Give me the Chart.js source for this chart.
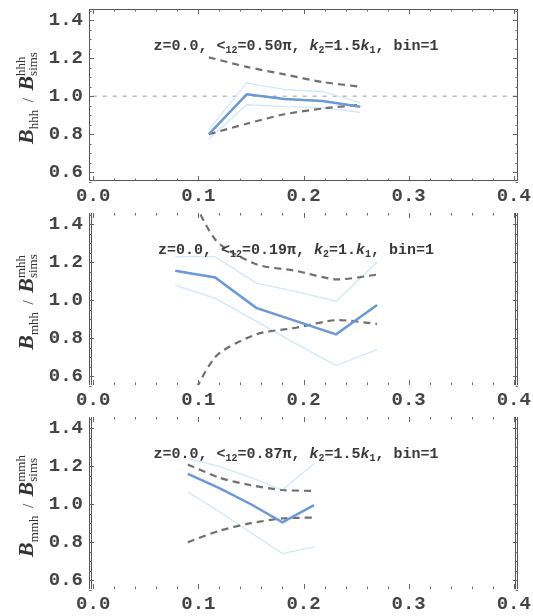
<!DOCTYPE html>
<html>
<head>
<meta charset="utf-8">
<script src="https://cdn.jsdelivr.net/npm/chart.js@4.4.1/dist/chart.umd.min.js"></script>
<style>
body { margin: 0; background: #fff; width: 533px; height: 616px; overflow: hidden; position: relative; }
canvas { position: absolute; left: 0; }
</style>
</head>
<body>
<canvas id="c1" width="533" height="212" style="top:0px"></canvas>
<canvas id="c2" width="533" height="212" style="top:204px"></canvas>
<canvas id="c3" width="533" height="212" style="top:408px"></canvas>
<script>
// axis ticks (shared by all three panels)
const xTicks = [0.0, 0.1, 0.2, 0.3, 0.4];
const yTicks = [0.6, 0.8, 1.0, 1.2, 1.4];

// panel 1: hhh, angle 0.50 pi
const k1 = [0.110, 0.146, 0.182, 0.218, 0.254];
const ratio1 = [0.80, 1.01, 0.985, 0.975, 0.945];
const ratio1Hi = [0.825, 1.07, 1.035, 1.025, 0.965];
const ratio1Lo = [0.775, 0.955, 0.945, 0.94, 0.915];
const dashHi1 = [1.205, 1.155, 1.115, 1.075, 1.05];
const dashLo1 = [0.80, 0.855, 0.905, 0.935, 0.955];
const refX = [-0.01, 0.41];
const refY = [1.0, 1.0];

// panel 2: mhh, angle 0.19 pi
const k2 = [0.078, 0.116, 0.155, 0.193, 0.231, 0.270];
const ratio2 = [1.155, 1.12, 0.96, 0.89, 0.82, 0.975];
const ratio2Hi = [1.23, 1.23, 1.09, 1.045, 0.995, 1.20];
const ratio2Lo = [1.08, 1.01, 0.89, 0.77, 0.655, 0.74];
const dashHi2 = [1.74, 1.32, 1.19, 1.155, 1.11, 1.135];
const dashLo2 = [0.31, 0.70, 0.82, 0.855, 0.895, 0.875];

// panel 3: mmh, angle 0.87 pi
const k3 = [0.09, 0.12, 0.15, 0.18, 0.21];
const ratio3 = [1.16, 1.085, 1.0, 0.905, 0.995];
const ratio3Hi = [1.24, 1.20, 1.14, 1.075, 1.215];
const ratio3Lo = [1.065, 0.96, 0.85, 0.74, 0.775];
const dashHi3 = [1.21, 1.14, 1.10, 1.075, 1.07];
const dashLo3 = [0.80, 0.86, 0.90, 0.925, 0.93];

const tickFont = { family: "'Liberation Mono', monospace", size: 19, weight: 'bold' };
const noteFont = "bold 15px 'Liberation Mono', 'DejaVu Sans Mono', monospace";
const noteKFont = "bold italic 15px 'Liberation Mono', monospace";
const noteSubFont = "bold 10px 'Liberation Mono', monospace";

function line(xs, ys, style) {
    return Object.assign({ data: xs.map((x, i) => ({ x: x, y: ys[i] })), showLine: true, pointRadius: 0, fill: false }, style);
}
const dashStyle = { borderColor: '#707070', borderWidth: 2.2, borderDash: [7, 5], tension: 0.25, order: 2 };
const mainStyle = { borderColor: '#6b98d8', borderWidth: 2.5, order: 1 };
const bandStyle = { borderColor: '#d2e7fb', borderWidth: 1.3, order: 3 };
const refStyle = { borderColor: '#bdbdbd', borderWidth: 1.5, borderDash: [4, 6], order: 4 };

// draw text made of pieces (sub/superscripts), left to right from x
function richWidth(ctx, segs) {
    let w = 0;
    segs.forEach(s => {
        ctx.font = s.font;
        if (s.sup !== undefined) {
            s.w = Math.max(ctx.measureText(s.sup).width, ctx.measureText(s.sub).width);
        } else {
            s.w = ctx.measureText(s.t).width;
        }
        w += s.w;
    });
    return w;
}
function drawRich(ctx, segs, x, y) {
    segs.forEach(s => {
        ctx.font = s.font;
        if (s.sup !== undefined) {
            ctx.fillText(s.sup, x, y - 8);
            ctx.fillText(s.sub, x, y + 4);
        } else {
            ctx.fillText(s.t, x, y + (s.dy || 0));
        }
        x += s.w;
    });
}

function noteSegs(angle, ratio) {
    const N = t => ({ t: t, font: noteFont });
    const S = t => ({ t: t, font: noteSubFont, dy: 3 });
    const K = t => ({ t: t, font: noteKFont });
    return [N('z=0.0, <'), S('12'), N('=' + angle + 'π, '), K('k'), S('2'), N('=' + ratio), K('k'), S('1'), N(', bin=1')];
}
function titleSegs(kind) {
    const bFont = "bold italic 22px 'Liberation Serif', serif";
    const small = "13px 'Liberation Serif', serif";
    return [
        { t: 'B', font: bFont },
        { t: kind, font: small, dy: 5 },
        { t: '  /  ', font: "15px 'Liberation Serif', serif" },
        { t: 'B', font: bFont },
        { sup: kind, sub: 'sims', font: small }
    ];
}

const decoPlugin = {
    id: 'deco',
    afterDatasetsDraw(chart, args, opts) {
        const ctx = chart.ctx;
        const a = chart.chartArea;
        const xs = chart.scales.x, ys = chart.scales.y;
        ctx.save();
        // frame
        ctx.strokeStyle = '#555';
        ctx.lineWidth = 1;
        if (opts.frame === 'box') {
            ctx.strokeRect(a.left + 0.5, a.top + 0.5, a.right - a.left - 1, a.bottom - a.top - 1);
        } else {
            [a.left + 0.5, a.left + 2.5, a.right - 2.5, a.right - 0.5].forEach(px => {
                ctx.beginPath(); ctx.moveTo(px, a.top); ctx.lineTo(px, a.bottom); ctx.stroke();
            });
        }
        // inward tick marks
        ctx.strokeStyle = '#666';
        for (let v = 0; v <= 0.4001; v += 0.02) {
            const px = Math.round(xs.getPixelForValue(v)) + 0.5;
            const len = Math.abs(v * 10 - Math.round(v * 10)) < 1e-6 ? 5 : 2.5;
            ctx.beginPath();
            ctx.moveTo(px, a.bottom); ctx.lineTo(px, a.bottom - len);
            ctx.moveTo(px, a.top); ctx.lineTo(px, a.top + len);
            ctx.stroke();
        }
        for (let v = 0.55; v <= 1.4501; v += 0.05) {
            const py = Math.round(ys.getPixelForValue(v)) + 0.5;
            const len = Math.abs(v * 5 - Math.round(v * 5)) < 1e-6 ? 5 : 2.5;
            ctx.beginPath();
            ctx.moveTo(a.left, py); ctx.lineTo(a.left + len, py);
            ctx.moveTo(a.right, py); ctx.lineTo(a.right - len, py);
            ctx.stroke();
        }
        // annotation
        ctx.fillStyle = '#3a3a3a';
        ctx.textBaseline = 'alphabetic';
        const segs = opts.note;
        const w = richWidth(ctx, segs);
        drawRich(ctx, segs, 296 - w / 2, a.top + 41);
        // rotated y title
        const t = opts.title;
        const tw = richWidth(ctx, t);
        ctx.translate(33, (a.top + a.bottom) / 2 + 3);
        ctx.rotate(-Math.PI / 2);
        ctx.fillStyle = '#333';
        drawRich(ctx, t, -tw / 2, 0);
        ctx.restore();
    }
};

function makePanel(id, datasets, note, title, frame) {
    return new Chart(document.getElementById(id), {
        type: 'scatter',
        data: { datasets: datasets },
        options: {
            responsive: false,
            animation: false,
            devicePixelRatio: 1,
            layout: { padding: { left: 0, right: 15, top: 9, bottom: 0 } },
            elements: { line: { capBezierPoints: false } },
            scales: {
                x: {
                    type: 'linear', min: -0.004, max: 0.404,
                    afterBuildTicks: s => { s.ticks = xTicks.map(v => ({ value: v })); },
                    afterFit: s => { s.height = 31; s.paddingLeft = 0; s.paddingRight = 0; },
                    grid: { display: false, drawTicks: false },
                    border: { display: false },
                    ticks: { font: tickFont, color: '#444', padding: 4, maxRotation: 0, callback: v => v.toFixed(1) }
                },
                y: {
                    min: 0.553, max: 1.46,
                    afterBuildTicks: s => { s.ticks = yTicks.map(v => ({ value: v })); },
                    afterFit: s => { s.width = 89; s.paddingTop = 0; s.paddingBottom = 0; },
                    grid: { display: false, drawTicks: false },
                    border: { display: false },
                    ticks: { font: tickFont, color: '#444', padding: 6, callback: v => v.toFixed(1) }
                }
            },
            plugins: {
                legend: { display: false },
                tooltip: { enabled: false },
                deco: { note: note, title: title, frame: frame }
            }
        },
        plugins: [decoPlugin]
    });
}

makePanel('c1', [
    line(k1, ratio1, mainStyle),
    line(k1, dashHi1, dashStyle),
    line(k1, dashLo1, dashStyle),
    line(k1, ratio1Hi, bandStyle),
    line(k1, ratio1Lo, bandStyle),
    line(refX, refY, refStyle)
], noteSegs('0.50', '1.5'), titleSegs('hhh'), 'box');

makePanel('c2', [
    line(k2, ratio2, mainStyle),
    line(k2, dashHi2, dashStyle),
    line(k2, dashLo2, dashStyle),
    line(k2, ratio2Hi, bandStyle),
    line(k2, ratio2Lo, bandStyle)
], noteSegs('0.19', '1.'), titleSegs('mhh'), 'sides');

makePanel('c3', [
    line(k3, ratio3, mainStyle),
    line(k3, dashHi3, dashStyle),
    line(k3, dashLo3, dashStyle),
    line(k3, ratio3Hi, bandStyle),
    line(k3, ratio3Lo, bandStyle)
], noteSegs('0.87', '1.5'), titleSegs('mmh'), 'sides');
</script>
</body>
</html>
